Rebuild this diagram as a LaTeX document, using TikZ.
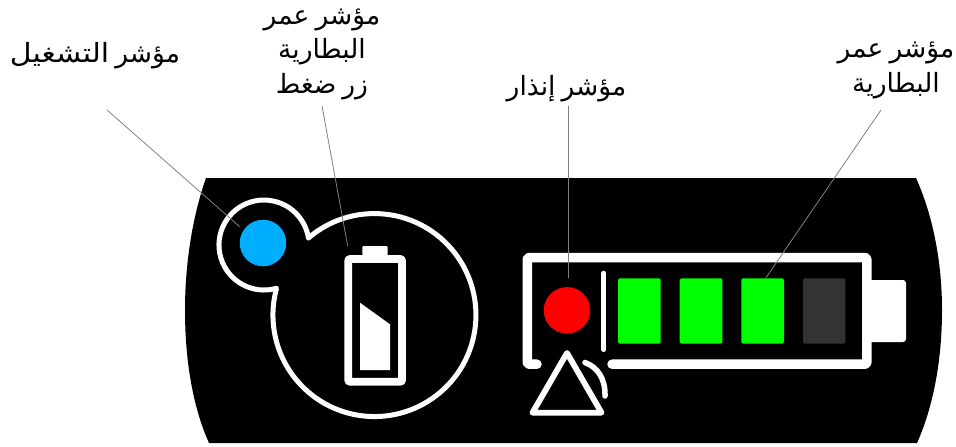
\documentclass[tikz,border=0pt]{standalone}
\usepackage{fontspec}
\TeXXeTstate=1
\newfontfamily\arabicfont[Script=Arabic,WordSpace=0.72]{DejaVu Sans}
\newfontfamily\arabicwide[Script=Arabic,FakeStretch=1.13]{DejaVu Sans}
\newcommand{\ar}[1]{\beginR #1\endR}
\definecolor{ledblue}{HTML}{00AEFF}
\definecolor{ledgreen}{HTML}{00FF00}
\definecolor{leddark}{HTML}{333333}
\definecolor{leadgray}{HTML}{808080}
\tikzset{
  lab/.style={font=\arabicfont\fontsize{26.5}{34.5}\selectfont, align=center, text=black, inner sep=0pt},
  leader/.style={draw=leadgray, line width=0.8pt},
  wline/.style={draw=white, line join=round, line cap=round},
  seg/.style={fill=ledgreen, draw=none, rounded corners=1.5pt},
  segoff/.style={fill=leddark, draw=none, rounded corners=1.5pt},
  led/.style={circle, draw=none, minimum size=46.5pt, inner sep=0pt}
}
\begin{document}
\begin{tikzpicture}[x=1pt,y=1pt,yscale=-1]
\useasboundingbox (0,0) rectangle (956,447);
% body
\fill[black] (206,178) -- (916,178)
  .. controls (934,218) and (942,265) .. (942,310)
  .. controls (942,358) and (934,405) .. (917,443)
  -- (209,443)
  .. controls (192,405) and (185,358) .. (185,310)
  .. controls (185,265) and (192,218) .. (206,178) -- cycle;
% button outline
\draw[wline, line width=5pt] (308.4,238)
  arc[start angle=229.4, end angle=555.3, radius=101.5]
  -- (276.6,288.2)
  arc[start angle=73.7, end angle=351, radius=45] -- cycle;
\node[led, fill=ledblue] (power) at (263,243) {};
% battery icon
\draw[wline, line width=7.7pt, rounded corners=1pt] (348.3,259) rectangle (402,381.7);
\fill[white, rounded corners=1pt] (362.3,255.5) -- (362.3,246) -- (387.7,246) -- (387.7,255.5) -- cycle;
\fill[white] (360,302.7) -- (390,324.3) -- (390,370) -- (360,370) -- cycle;
% right battery
\fill[white, rounded corners=3pt] (868,280) -- (906,280) -- (906,342) -- (868,342) -- cycle;
\draw[wline, line width=9.5pt, rounded corners=2pt] (537,364.2) -- (527.3,364.2) -- (527.3,257.5) -- (866.8,257.5) -- (866.8,364.2) -- (612,364.2);
\draw[wline, line width=5pt] (603.8,273.2) -- (603.8,349.5);
\node[led, fill=red] (warn) at (567,310.3) {};
\fill[seg] (618,278.3) rectangle (660.7,343.7);
\fill[seg] (679.7,278.3) rectangle (722.3,343.7);
\fill[seg] (741.3,278.3) rectangle (784,343.7);
\fill[segoff] (803,278.3) rectangle (845.3,343.7);
% warning triangle
\draw[wline, line width=5.8pt] (567,353) -- (601.5,412.7) -- (532.5,412.7) -- cycle;
\draw[wline, line width=5.5pt] (585,362.5) .. controls (597,367) and (605.5,378) .. (605,396);
% labels
\node[lab] (lpower) at (95,56) {\ar{مؤشر {\arabicwide\fontsize{26.5}{34.5}\selectfont التشغيل}}};
\node[lab] (lbtn) at (322,54) {\ar{مؤشر عمر}\\\ar{البطارية}\\\ar{زر ضغط}};
\node[lab] (lwarn) at (566.5,89) {\ar{مؤشر إنذار}};
\node[lab] (lbat) at (896,70.5) {\ar{مؤشر عمر}\\\ar{البطارية}};
% leaders
\coordinate (a1) at (107,110); \coordinate (a2) at (239.5,226.5);
\coordinate (b1) at (322,106); \coordinate (b2) at (347.7,246);
\coordinate (c1) at (568.5,106); \coordinate (c2) at (568.5,277.7);
\coordinate (d1) at (881,110); \coordinate (d2) at (766,277.7);
\draw[leader] (a1) -- (a2);
\draw[leader] (b1) -- (b2);
\draw[leader] (c1) -- (c2);
\draw[leader] (d1) -- (d2);
\end{tikzpicture}
\end{document}
